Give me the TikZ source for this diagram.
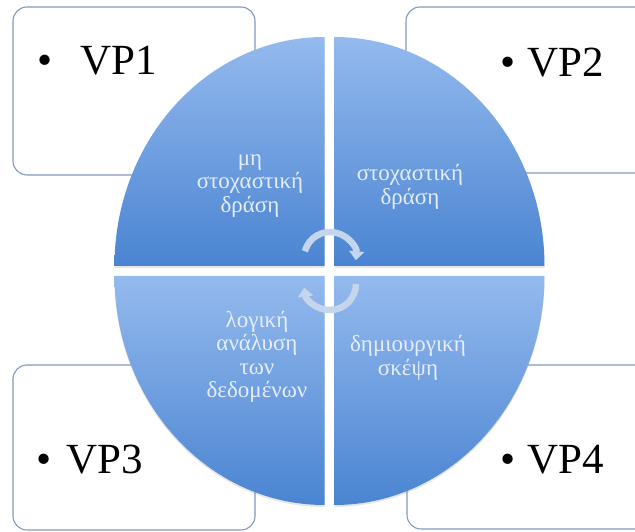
\documentclass[tikz,border=0pt]{standalone}
\usepackage{fontspec}
\setmainfont{Liberation Serif}
\usetikzlibrary{arrows.meta,shadows}
\definecolor{quadtop}{HTML}{94BAEE}
\definecolor{quadbot}{HTML}{4A84D1}
\definecolor{boxline}{HTML}{8299BE}
\definecolor{cyclefill}{HTML}{C4D5EC}
\definecolor{quadtext}{HTML}{E4EDF9}
\begin{document}
\begin{tikzpicture}[
  x=1pt,y=1pt,
  vpbox/.style={draw=boxline,line width=1.1pt,rounded corners=14pt,fill=white,inner sep=0pt},
  vplabel/.style={anchor=base west,inner sep=0pt,font=\fontsize{43}{50}\selectfont},
  vpdot/.style={anchor=base,inner sep=0pt,font=\fontsize{43}{50}\selectfont},
  quad/.style={top color=quadtop,bottom color=quadbot,
               drop shadow={shadow xshift=0pt,shadow yshift=-2pt,opacity=.2}},
  quadlabel/.style={align=center,text=quadtext,inner sep=0pt,font=\fontsize{23}{23.5}\selectfont},
  cyclearrow/.style={-{Triangle[width=15pt,length=9pt]},line width=6.5pt,draw=cyclefill}
]
\useasboundingbox (0,0) rectangle (635,532);
\clip (0,0) rectangle (635,532);
\node[vpbox,minimum width=242pt,minimum height=168pt] (vp1box) at (134,441) {};
\node[vpbox,minimum width=260pt,minimum height=166pt] (vp2box) at (536,442) {};
\node[vpbox,minimum width=242pt,minimum height=165pt] (vp3box) at (134,84.5) {};
\node[vpbox,minimum width=260pt,minimum height=164pt] (vp4box) at (537,85) {};
\node[vpdot] (vp1dot) at (45,457) {•};
\node[vplabel] (vp1) at (80,457) {VP1};
\node[vpdot] (vp2dot) at (508,455) {•};
\node[vplabel] (vp2) at (527,455) {VP2};
\node[vpdot] (vp3dot) at (44,58) {•};
\node[vplabel] (vp3) at (66,58) {VP3};
\node[vpdot] (vp4dot) at (508,58) {•};
\node[vplabel] (vp4) at (527,58) {VP4};
\path[quad] (324.5,266) -- (114.5,266) arc[start angle=180,end angle=90,x radius=210,y radius=229] -- cycle;
\path[quad] (334.5,266) -- (334.5,495) arc[start angle=90,end angle=0,x radius=210,y radius=229] -- cycle;
\path[quad] (324.5,256) -- (324.5,27) arc[start angle=270,end angle=180,x radius=210,y radius=229] -- cycle;
\path[quad] (334.5,256) -- (544.5,256) arc[start angle=0,end angle=-90,x radius=210,y radius=229] -- cycle;
\node[quadlabel] (nonstoch) at (250,346) {μη\\στοχαστική\\δράση};
\node[quadlabel] (stoch) at (410,345) {στοχαστική\\δράση};
\node[quadlabel] (logic) at (257,175) {λογική\\ανάλυση\\των\\δεδομένων};
\node[quadlabel] (creative) at (408,174) {δημιουργική\\σκέψη};
\coordinate (uphub) at (330,274);
\coordinate (lowhub) at (330,248);
\draw[cyclearrow] ([shift={(165:26)}]uphub) arc[start angle=165,end angle=-5,radius=26];
\draw[cyclearrow] ([shift={(0:26)}]lowhub) arc[start angle=0,end angle=-172,radius=26];
\end{tikzpicture}
\end{document}
